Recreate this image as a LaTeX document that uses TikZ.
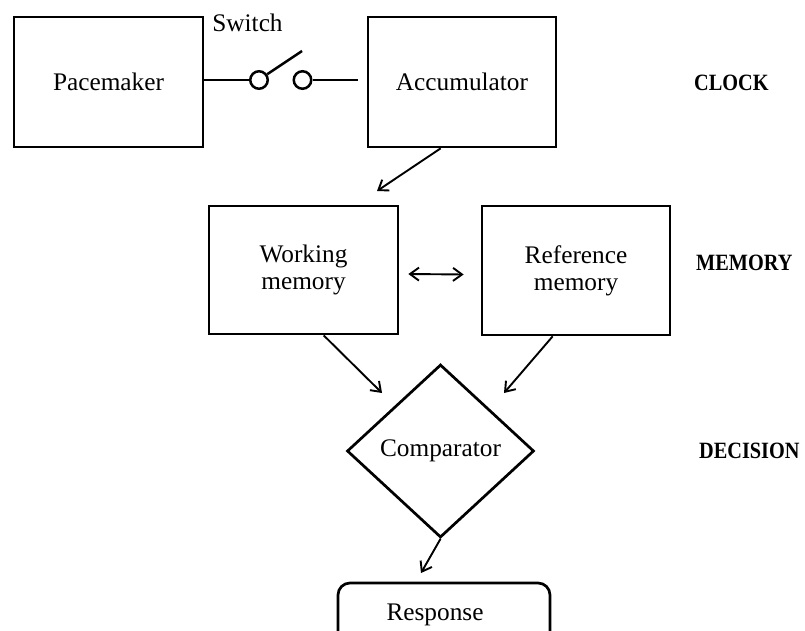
\documentclass[tikz,border=0pt]{standalone}
\usepackage{graphicx}
\usepackage{fontspec}
\setmainfont{Liberation Serif}
\usetikzlibrary{arrows.meta,shapes.geometric}
\begin{document}
\begin{tikzpicture}[x=1pt,y=-1pt,
  box/.style={draw, line width=2.7pt, inner sep=0pt, minimum width=189pt, minimum height=130pt,
              font=\fontsize{25.3}{27}\selectfont, align=center},
  lbl/.style={font=\fontsize{25.3}{27}\selectfont, inner sep=0pt},
  tag/.style={anchor=west, inner sep=0pt, font=\fontsize{20.3}{24}\selectfont\bfseries},
  barb/.tip={Straight Barb[length=9pt,width=13pt,line width=1.9pt]},
  arr/.style={line width=1.9pt, -barb},
  wire/.style={line width=2.5pt},
  contact/.style={circle, draw, line width=2.5pt, minimum size=17.5pt, inner sep=0pt},
]
\useasboundingbox (0,0) rectangle (805,631);

% boxes
\node[box] (pm) at (108.5,82) {Pacemaker};
\node[box, minimum width=188pt] (acc) at (462,82) {Accumulator};
\node[box, minimum height=128pt] (wm) at (303.5,270) {Working\\memory};
\node[box, minimum width=188pt, minimum height=129pt] (rm) at (576,270.5) {Reference\\memory};
\node[diamond, draw, line width=2.7pt, minimum width=187pt, minimum height=173pt, inner sep=0pt,
      font=\fontsize{25.3}{27}\selectfont] (cmp) at (440.5,451) {Comparator};

% response (box runs off the bottom edge)
\node[lbl, anchor=base] (resp) at (435,620) {Response};
\draw[line width=2.7pt, rounded corners=12pt] (338,631) -- (338,583) -- (550,583) -- (550,631);

% switch
\node[contact] (c1) at (259,80) {};
\node[contact] (c2) at (302.5,80) {};
\coordinate (lever) at (302,51);
\coordinate (wend) at (358,80);
\draw[wire] (pm.east |- c1.west) -- (c1.west);
\draw[wire] (c1.35) -- (lever);
\draw[wire] (c2.east) -- (wend);
\node[lbl, anchor=base] (sw) at (247.5,32) {Switch};

% arrows
\coordinate (t1) at (377,191);
\coordinate (t2) at (382,393);
\coordinate (t3) at (504,393);
\coordinate (t4) at (421,573);
\draw[arr] ([xshift=74pt]acc.south west) -- (t1);
\draw[line width=1.9pt, barb-barb] ([xshift=9pt,yshift=-4pt]wm.east) -- ([xshift=-17pt,yshift=-4pt]rm.west);
\draw[arr] ([xshift=116pt]wm.south west) -- (t2);
\draw[arr] ([xshift=72pt]rm.south west) -- (t3);
\draw[arr] (cmp.south) -- (t4);

% stage labels
\node[tag] (clock) at (694,83) {\scalebox{1}[1.15]{CLOCK}};
\node[tag] (memory) at (696,262.5) {\scalebox{1}[1.15]{MEMORY}};
\node[tag] (decision) at (699,451) {\scalebox{1}[1.15]{DECISION}};
\end{tikzpicture}
\end{document}
